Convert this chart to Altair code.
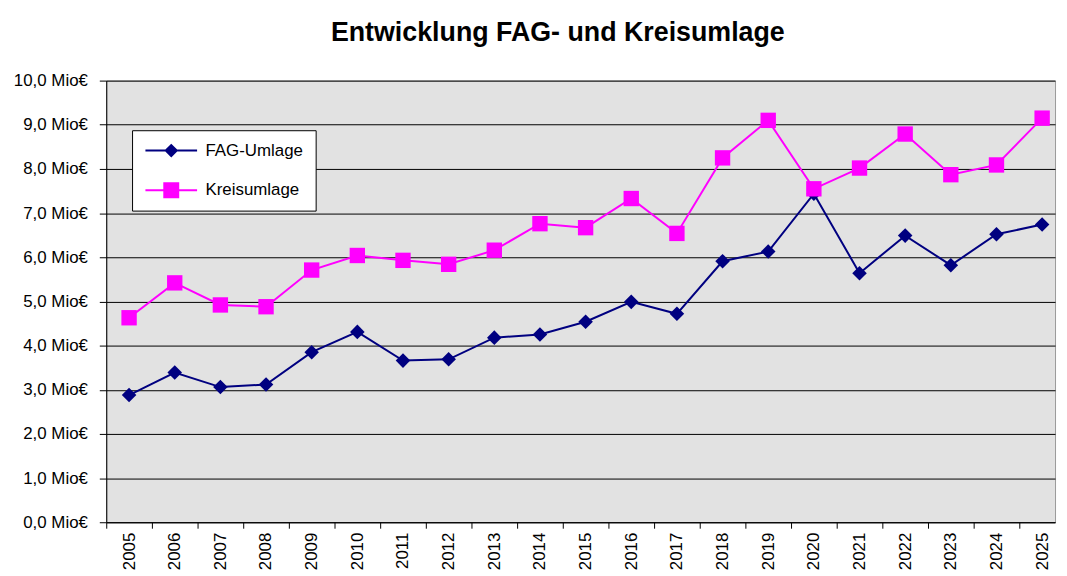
import altair as alt
import pandas as pd

years = list(range(2005, 2026))
fag_umlage = [2.88, 3.39, 3.06, 3.12, 3.85, 4.31, 3.66, 3.69, 4.18, 4.25, 4.54,
              4.99, 4.72, 5.91, 6.13, 7.44, 5.64, 6.49, 5.82, 6.52, 6.74]
kreisumlage = [4.63, 5.42, 4.92, 4.88, 5.71, 6.04, 5.93, 5.84, 6.16, 6.76, 6.67,
               7.33, 6.54, 8.25, 9.10, 7.55, 8.02, 8.79, 7.87, 8.09, 9.15]
series_names = ["FAG-Umlage", "Kreisumlage"]
series_colors = ["#000080", "#ff00ff"]
series_shapes = ["diamond", "square"]
series_sizes = [215, 240]
y_ticks = list(range(0, 11))
x_boundaries = [y - 0.5 for y in years]

rows = []
for i, yr in enumerate(years):
    rows.append({"Jahr": yr, "Wert": fag_umlage[i], "Reihe": series_names[0]})
    rows.append({"Jahr": yr, "Wert": kreisumlage[i], "Reihe": series_names[1]})
df = pd.DataFrame(rows)

FONT = "Liberation Sans"
W, H = 956, 445

# legend glyphs: short line segment with the series marker on it
fag_path = "M-3.47,-0.13H3.47V0.13H-3.47Z M0,-0.93L0.93,0L0,0.93L-0.93,0Z"
kreis_path = "M-3.47,-0.13H3.47V0.13H-3.47Z M-1.07,-1.07H1.07V1.07H-1.07Z"

legend = alt.Legend(
    title=None, orient="none", legendX=26, legendY=50,
    fillColor="white", strokeColor="black", padding=12,
    symbolSize=225, symbolOffset=19, labelOffset=26, rowPadding=22,
    labelFont=FONT, labelFontSize=17, labelColor="black",
    symbolStrokeWidth=0, symbolOpacity=1,
)

x_enc = alt.X("Jahr:Q",
              scale=alt.Scale(domain=[2004.5, 2004.5 + W / 46.0], nice=False, zero=False),
              axis=alt.Axis(values=x_boundaries, labelExpr="format(datum.value + 0.5, 'd')",
                            labelAngle=-90, labelOffset=23, tickSize=6, tickColor="black",
                            domainColor="black", grid=False, title=None, labelOverlap=False,
                            labelFlush=False, labelFont=FONT, labelFontSize=17,
                            labelColor="black", labelPadding=4))
y_enc = alt.Y("Wert:Q",
              scale=alt.Scale(domain=[0, 10], nice=False),
              axis=alt.Axis(values=y_ticks,
                            labelExpr="replace(format(datum.value, '.1f'), '.', ',') + ' Mio€'",
                            grid=True, gridColor="black", gridOpacity=1, gridWidth=1,
                            tickSize=7, tickColor="black", domainColor="black",
                            labelPadding=12, labelFont=FONT, labelFontSize=17,
                            labelColor="black", title=None))

base = alt.Chart(df)

# invisible layer that only carries the legend
legend_layer = base.mark_point(filled=True, opacity=0).encode(
    x=x_enc, y=y_enc,
    color=alt.Color("Reihe:N", scale=alt.Scale(domain=series_names, range=series_colors),
                    legend=legend),
    shape=alt.Shape("Reihe:N", scale=alt.Scale(domain=series_names, range=[fag_path, kreis_path]),
                    legend=legend),
)

data_layers = []
for name, col in zip(series_names, series_colors):
    data_layers.append(
        base.transform_filter(alt.datum.Reihe == name)
        .mark_line(strokeWidth=2, color=col)
        .encode(x=x_enc, y=y_enc)
    )
for name, col, shp, sz in zip(series_names, series_colors, series_shapes, series_sizes):
    data_layers.append(
        base.transform_filter(alt.datum.Reihe == name)
        .mark_point(filled=True, opacity=1, shape=shp, size=sz, strokeWidth=0, color=col)
        .encode(x=x_enc, y=y_enc)
    )

chart = alt.layer(legend_layer, *data_layers).properties(
    width=W, height=H,
    title=alt.TitleParams("Entwicklung FAG- und Kreisumlage", font=FONT, fontSize=27,
                          fontWeight="bold", color="black", anchor="middle", dx=-23,
                          frame="group", baseline="bottom", offset=-2),
    autosize=alt.AutoSizeParams(type="none"),
    padding={"left": 99, "top": 71, "right": 4, "bottom": 50},
).configure_view(fill="#e2e2e2", stroke="#9a9a9a", strokeWidth=1)

chart.save("out.html", embed_options={"renderer": "svg", "actions": False})
